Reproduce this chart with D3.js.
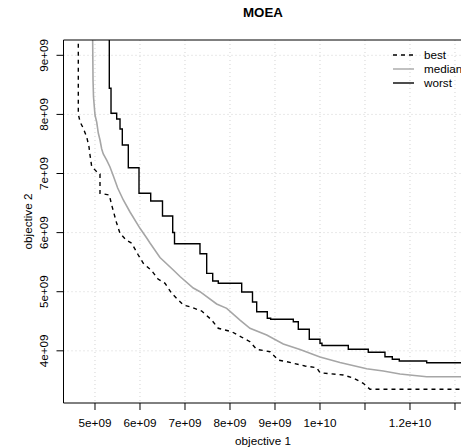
<!DOCTYPE html>
<html>
<head>
<meta charset="UTF-8">
<title>MOEA</title>
<script src="https://cdn.jsdelivr.net/npm/d3@7"></script>
<style>
  body { margin: 0; background: #fff; }
  text { font-family: "Liberation Sans", Arial, sans-serif; }
</style>
</head>
<body>
<div id="chart"></div>
<script>
var W = 461, H = 447;
var margin = {top: 40, left: 63.5, bottom: 44, right: -1.5};

// values in units of 1e9
var worstX = [5.318, 5.318, 5.356, 5.482, 5.556, 5.607, 5.740, 5.978, 6.238, 6.500, 6.727, 6.767, 7.333, 7.482, 7.616, 7.740, 8.260, 8.500, 8.593, 8.829, 8.904, 9.407, 9.518, 9.762, 10.000, 10.044, 10.629, 11.073, 11.444, 11.607, 11.762, 12.371, 13.300];
var worstY = [9.600, 8.442, 8.019, 7.922, 7.753, 7.482, 7.098, 6.665, 6.535, 6.281, 6.002, 5.812, 5.643, 5.311, 5.181, 5.142, 4.995, 4.826, 4.662, 4.550, 4.533, 4.492, 4.364, 4.195, 4.127, 4.090, 4.027, 3.975, 3.900, 3.856, 3.827, 3.799, 3.799];

var bestX = [4.629, 4.629, 4.667, 4.740, 4.816, 4.867, 4.889, 4.927, 5.073, 5.111, 5.111, 5.318, 5.371, 5.482, 5.556, 5.689, 5.816, 5.962, 6.073, 6.260, 6.400, 6.556, 6.704, 6.962, 7.111, 7.371, 7.593, 7.740, 8.038, 8.444, 8.593, 8.889, 9.073, 9.260, 9.667, 9.927, 10.000, 10.518, 10.740, 10.962, 11.111, 13.300];
var bestY = [9.600, 8.007, 7.876, 7.765, 7.618, 7.448, 7.313, 7.118, 7.003, 6.992, 6.665, 6.636, 6.467, 6.157, 5.988, 5.875, 5.819, 5.621, 5.481, 5.355, 5.215, 5.142, 4.973, 4.775, 4.746, 4.673, 4.521, 4.381, 4.323, 4.154, 4.025, 3.985, 3.844, 3.816, 3.743, 3.714, 3.629, 3.591, 3.540, 3.450, 3.349, 3.349];

var medianX = [4.944, 4.956, 4.967, 5.000, 5.038, 5.073, 5.111, 5.149, 5.184, 5.260, 5.333, 5.400, 5.504, 5.629, 5.778, 6.000, 6.149, 6.222, 6.444, 6.740, 6.889, 7.184, 7.333, 7.704, 7.927, 8.222, 8.444, 8.816, 9.184, 9.556, 10.000, 10.444, 11.038, 11.407, 11.778, 12.371, 13.300];
var medianY = [9.600, 8.582, 8.294, 7.990, 7.871, 7.685, 7.567, 7.415, 7.330, 7.228, 7.110, 6.975, 6.755, 6.552, 6.349, 6.073, 5.909, 5.824, 5.579, 5.367, 5.257, 5.063, 5.000, 4.792, 4.719, 4.521, 4.381, 4.267, 4.115, 4.022, 3.895, 3.802, 3.697, 3.658, 3.607, 3.562, 3.562];

var xTicks = [5, 6, 7, 8, 9, 10, 11, 12, 13];
var xTickLabels = ["5e+09", "6e+09", "7e+09", "8e+09", "9e+09", "1e+10", "", "1.2e+10", ""];
var yTicks = [4, 5, 6, 7, 8, 9];
var yTickLabels = ["4e+09", "5e+09", "6e+09", "7e+09", "8e+09", "9e+09"];

var seriesNames = ["best", "median", "worst"];
var seriesColors = ["#000000", "#a6a6a6", "#000000"];
var seriesDash = ["4,4", null, null];

var x = d3.scaleLinear().domain([4.3, 13.167]).range([margin.left, W - margin.right]);
var y = d3.scaleLinear().domain([3.117, 9.259]).range([H - margin.bottom, margin.top]);

var svg = d3.select("#chart").append("svg").attr("width", W).attr("height", H);

svg.append("defs").append("clipPath").attr("id", "clip")
  .append("rect").attr("x", x.range()[0]).attr("y", margin.top)
  .attr("width", x.range()[1] - x.range()[0]).attr("height", H - margin.bottom - margin.top);

// grid
svg.append("g").selectAll("line").data(xTicks).enter().append("line")
  .attr("x1", function(d){ return x(d); }).attr("x2", function(d){ return x(d); })
  .attr("y1", margin.top).attr("y2", H - margin.bottom)
  .style("stroke", "#d3d3d3").style("stroke-dasharray", "1,3").style("stroke-width", 1);
svg.append("g").selectAll("line").data(yTicks).enter().append("line")
  .attr("y1", function(d){ return y(d); }).attr("y2", function(d){ return y(d); })
  .attr("x1", x.range()[0]).attr("x2", x.range()[1])
  .style("stroke", "#d3d3d3").style("stroke-dasharray", "1,3").style("stroke-width", 1);

// curves
var plot = svg.append("g").attr("clip-path", "url(#clip)");
function pts(xs, ys){ return xs.map(function(v, i){ return [v, ys[i]]; }); }
var lineLin = d3.line().x(function(d){ return x(d[0]); }).y(function(d){ return y(d[1]); });
var lineStep = d3.line().x(function(d){ return x(d[0]); }).y(function(d){ return y(d[1]); }).curve(d3.curveStepAfter);

plot.append("path").attr("d", lineLin(pts(medianX, medianY)))
  .style("fill", "none").style("stroke", seriesColors[1]).style("stroke-width", 1.6);
plot.append("path").attr("d", lineLin(pts(bestX, bestY)))
  .style("fill", "none").style("stroke", seriesColors[0]).style("stroke-width", 1.4).style("stroke-dasharray", seriesDash[0]);
plot.append("path").attr("d", lineStep(pts(worstX, worstY)))
  .style("fill", "none").style("stroke", seriesColors[2]).style("stroke-width", 1.4);

// box
var by = H - margin.bottom;
svg.append("path")
  .attr("d", "M" + (W + 5) + "," + margin.top + "H" + x.range()[0] + "V" + by + "H" + (W + 5))
  .style("fill", "none").style("stroke", "#000").style("stroke-width", 1);

// x axis
var xa = svg.append("g");
xa.selectAll("line").data(xTicks).enter().append("line")
  .attr("x1", function(d){ return x(d); }).attr("x2", function(d){ return x(d); })
  .attr("y1", by).attr("y2", by + 7).style("stroke", "#000");
xa.selectAll("text").data(xTicks).enter().append("text")
  .attr("x", function(d){ return x(d); }).attr("y", by + 24)
  .attr("text-anchor", "middle").style("font-size", "11.7px")
  .text(function(d, i){ return xTickLabels[i]; });

// y axis
var ya = svg.append("g");
ya.selectAll("line").data(yTicks).enter().append("line")
  .attr("y1", function(d){ return y(d); }).attr("y2", function(d){ return y(d); })
  .attr("x1", x.range()[0] - 7).attr("x2", x.range()[0]).style("stroke", "#000");
ya.selectAll("text").data(yTicks).enter().append("text")
  .attr("transform", function(d){ return "translate(" + (x.range()[0] - 16) + "," + y(d) + ") rotate(-90)"; })
  .attr("text-anchor", "middle").style("font-size", "11.7px")
  .text(function(d, i){ return yTickLabels[i]; });

// titles
svg.append("text").attr("x", 263).attr("y", 17).attr("text-anchor", "middle")
  .style("font-size", "13.3px").style("font-weight", "bold").text("MOEA");
svg.append("text").attr("x", 263).attr("y", 445).attr("text-anchor", "middle")
  .style("font-size", "11.7px").text("objective 1");
svg.append("text").attr("transform", "translate(32," + ((margin.top + by) / 2) + ") rotate(-90)")
  .attr("text-anchor", "middle").style("font-size", "11.7px").text("objective 2");

// legend
var lg = svg.append("g").selectAll("g").data(seriesNames).enter().append("g")
  .attr("transform", function(d, i){ return "translate(393," + (55 + i * 14) + ")"; });
lg.append("line").attr("x1", 0).attr("x2", 21).attr("y1", 0).attr("y2", 0)
  .style("stroke", function(d, i){ return seriesColors[i]; })
  .style("stroke-width", 1.4)
  .style("stroke-dasharray", function(d, i){ return seriesDash[i]; });
lg.append("text").attr("x", 31).attr("y", 4).style("font-size", "11.7px").text(function(d){ return d; });
</script>
</body>
</html>
